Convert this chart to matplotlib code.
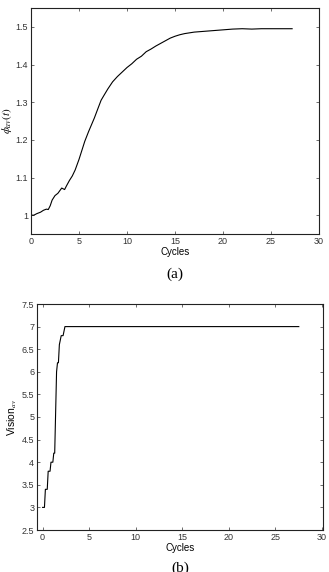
import numpy as np
import matplotlib.pyplot as plt

# (a) average phi over cycles
cycles_a = [0, 0.3, 0.6, 1.0, 1.3, 1.6, 1.8, 2.0, 2.2, 2.5, 2.8, 3.0, 3.2, 3.5, 3.7,
            4.0, 4.3, 4.6, 5.0, 5.3, 5.6, 6.0, 6.3, 6.6, 7.0, 7.3, 7.6, 8.0, 8.5, 9.0,
            9.5, 10.0, 10.5, 11.0, 11.5, 12.0, 12.5, 13.0, 13.5, 14.0, 14.5, 15.0,
            15.5, 16.0, 17.0, 18.0, 19.0, 20.0, 21.0, 22.0, 23.0, 24.0, 25.0, 26.0, 27.2]
phi_av = [1.0, 1.0, 1.004, 1.008, 1.013, 1.016, 1.015, 1.025, 1.04, 1.052, 1.058, 1.065,
          1.072, 1.068, 1.078, 1.092, 1.104, 1.12, 1.148, 1.172, 1.196, 1.222, 1.24,
          1.258, 1.285, 1.305, 1.318, 1.335, 1.354, 1.368, 1.38, 1.392, 1.402, 1.414,
          1.422, 1.434, 1.441, 1.449, 1.456, 1.463, 1.47, 1.475, 1.479, 1.482, 1.486,
          1.488, 1.49, 1.492, 1.494, 1.495, 1.494, 1.495, 1.495, 1.495, 1.495]

# (b) average vision over cycles (steps)
cycles_b = [0, 0.2, 0.3, 0.5, 0.6, 0.8, 0.9, 1.1, 1.2, 1.3, 1.5, 1.6, 1.7, 1.8, 2.0,
            2.2, 2.4, 27.5]
vision_av = [3.0, 3.0, 3.4, 3.4, 3.8, 3.8, 4.0, 4.0, 4.2, 4.2, 6.0, 6.2, 6.2, 6.6, 6.8,
             6.8, 7.0, 7.0]

plt.rcParams['font.family'] = ['Liberation Sans', 'DejaVu Sans']
plt.rcParams['mathtext.fontset'] = 'stix'

fig = plt.figure(figsize=(3.29, 5.72), dpi=100)

ax1 = fig.add_axes([31 / 329, 1 - 234 / 572, 288 / 329, 226 / 572])
ax1.plot(cycles_a, phi_av, color='black', lw=0.8)
ax1.set_xlim(0, 30)
ax1.set_ylim(0.95, 1.55)
ax1.set_xticks(np.arange(0, 31, 5))
ax1.set_yticks([1, 1.1, 1.2, 1.3, 1.4, 1.5])
ax1.set_yticklabels(['1', '1.1', '1.2', '1.3', '1.4', '1.5'])
ax1.set_xlabel('Cycles', fontsize=7, labelpad=1)
ax1.set_ylabel(r'$\phi_{av}(t)$', fontsize=8)
ax1.yaxis.set_label_coords(-0.06, 0.5)
ax1.text(0.5, -0.18, '(a)', transform=ax1.transAxes, ha='center', va='center',
         fontsize=11, family='Liberation Serif')

ax2 = fig.add_axes([37 / 329, 1 - 530 / 572, 286 / 329, 226 / 572])
ax2.plot(cycles_b, vision_av, color='black', lw=0.8)
ax2.set_xlim(-0.6, 30.1)
ax2.set_ylim(2.5, 7.5)
ax2.set_xticks(np.arange(0, 31, 5))
ax2.set_yticks(np.arange(2.5, 7.6, 0.5))
ax2.set_yticklabels(['2.5', '3', '3.5', '4', '4.5', '5', '5.5', '6', '6.5', '7', '7.5'])
ax2.set_xlabel('Cycles', fontsize=7, labelpad=1)
ax2.set_ylabel(r'Vision$_{av}$', fontsize=7.5, labelpad=2)
ax2.text(0.5, -0.17, '(b)', transform=ax2.transAxes, ha='center', va='center',
         fontsize=11, family='Liberation Serif')

for ax in (ax1, ax2):
    ax.tick_params(direction='in', top=True, right=True, labelsize=6.5,
                   length=2.5, width=0.5, pad=2, colors='#333333')
    for s in ax.spines.values():
        s.set_linewidth(0.8)
        s.set_color('#222222')

fig.savefig('out.png', dpi=100)
